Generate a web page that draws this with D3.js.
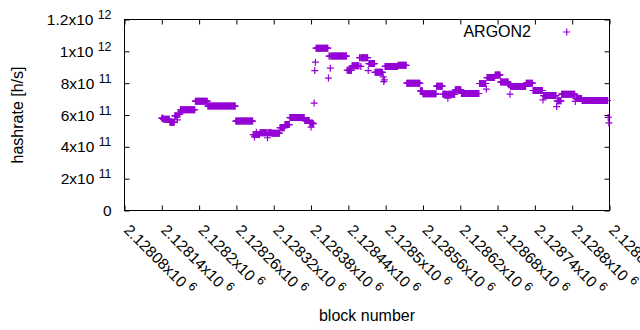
<!DOCTYPE html>
<html>
<head>
<meta charset="utf-8">
<script src="https://cdn.jsdelivr.net/npm/d3@7"></script>
<style>
body { margin: 0; background: #fff; }
text { font-family: "Liberation Sans", Arial, sans-serif; fill: #000; }
</style>
</head>
<body>
<div class="graph"></div>
<script>
// hashrate runs: blocks runFrom[i]..runTo[i] share runRate[i]
var runFrom = [2128140,2128143,2128153,2128161,2128165,2128166,2128170,2128194,2128214,2128259,
               2128287,2128289,2128290,2128292,2128293,2128298,2128310,2128311,2128317,2128330,
               2128338,2128346,2128370,2128378,2128380,2128381,2128383,2128385,2128386,2128387,
               2128388,2128408,2128409,2128411,2128412,2128438,2128446,2128458,2128460,2128461,
               2128472,2128473,2128483,2128496,2128497,2128498,2128499,2128520,2128534,2128556,
               2128560,2128582,2128592,2128600,2128601,2128612,2128622,2128651,2128662,2128663,
               2128676,2128685,2128698,2128700,2128701,2128726,2128737,2128753,2128754,2128775,
               2128776,2128783,2128805,2128806,2128816,2128858,2128859]
var runTo = [2128142,2128152,2128160,2128164,2128165,2128169,2128193,2128213,2128258,2128286,
             2128288,2128289,2128291,2128292,2128297,2128309,2128310,2128316,2128329,2128337,
             2128345,2128369,2128377,2128379,2128380,2128382,2128384,2128385,2128386,2128387,
             2128407,2128408,2128410,2128411,2128437,2128445,2128457,2128459,2128460,2128471,
             2128472,2128482,2128495,2128496,2128497,2128498,2128519,2128533,2128555,2128559,
             2128581,2128591,2128599,2128600,2128611,2128621,2128650,2128661,2128662,2128675,
             2128684,2128697,2128699,2128700,2128725,2128736,2128752,2128753,2128774,2128775,
             2128782,2128804,2128805,2128815,2128857,2128858,2128859]
var runRate = [5.80e11,5.73e11,5.54e11,5.95e11,5.70e11,6.05e11,6.33e11,6.87e11,6.56e11,5.62e11,
               4.77e11,4.62e11,4.77e11,4.92e11,4.77e11,4.89e11,4.57e11,4.89e11,4.86e11,5.20e11,
               5.40e11,5.84e11,5.65e11,5.50e11,5.24e11,5.50e11,5.45e11,6.75e11,8.79e11,9.32e11,
               10.20e11,8.32e11,9.70e11,8.94e11,9.70e11,8.81e11,9.09e11,9.60e11,9.05e11,9.60e11,
               8.79e11,9.23e11,8.68e11,8.40e11,8.10e11,8.21e11,9.05e11,9.12e11,8.00e11,7.52e11,
               7.33e11,7.81e11,7.30e11,7.06e11,7.30e11,7.58e11,7.35e11,7.98e11,7.63e11,8.35e11,
               8.52e11,8.07e11,7.90e11,7.31e11,7.79e11,8.00e11,7.54e11,6.95e11,7.22e11,6.53e11,
               6.89e11,7.31e11,6.85e11,7.03e11,6.91e11,5.85e11,5.50e11]

var xTicks = [2128080,2128140,2128200,2128260,2128320,2128380,2128440,
              2128500,2128560,2128620,2128680,2128740,2128800,2128860]
var yTicks = [0,2e11,4e11,6e11,8e11,1e12,1.2e12]
var seriesName = 'ARGON2'

var width = 640, height = 330
var plot = {left: 124.5, right: 609.5, top: 19.5, bottom: 210.5}
var purple = '#9400d3'
var fs = 16, tickFs = 15.5

var svg = d3.select('.graph')
    .append('svg')
    .attr('width', width)
    .attr('height', height)

var x = d3.scaleLinear().domain([2128080, 2128860]).range([plot.left, plot.right])
var y = d3.scaleLinear().domain([0, 1.2e12]).range([plot.bottom, plot.top])

// ticks on all four sides, pointing inward
function ticksOnly(g) {
    g.select('.domain').remove()
    g.selectAll('line').attr('stroke', '#000')
    g.selectAll('text').remove()
}
svg.append('g').attr('transform', 'translate(0,' + plot.bottom + ')')
    .call(d3.axisBottom(x).tickValues(xTicks).tickSize(-5)).call(ticksOnly)
svg.append('g').attr('transform', 'translate(0,' + plot.top + ')')
    .call(d3.axisTop(x).tickValues(xTicks).tickSize(-5)).call(ticksOnly)
svg.append('g').attr('transform', 'translate(' + plot.left + ',0)')
    .call(d3.axisLeft(y).tickValues(yTicks).tickSize(-5)).call(ticksOnly)
svg.append('g').attr('transform', 'translate(' + plot.right + ',0)')
    .call(d3.axisRight(y).tickValues(yTicks).tickSize(-5)).call(ticksOnly)

svg.append('rect')
    .attr('x', plot.left).attr('y', plot.top)
    .attr('width', plot.right - plot.left)
    .attr('height', plot.bottom - plot.top)
    .attr('fill', 'none')
    .attr('stroke', '#000')

// "m x10 ^e" style label
function sciText(t, v) {
    if (v === 0) { t.text('0'); return }
    var e = Math.floor(Math.log10(v) + 1e-9)
    var m = +(v / Math.pow(10, e)).toFixed(6)
    t.append('tspan').text(m + 'x10 ')
    t.append('tspan').attr('dy', -6).style('font-size', (tickFs * 0.8) + 'px').text(e)
}

svg.append('g').selectAll('text')
    .data(yTicks)
    .enter().append('text')
    .attr('x', 111.5)
    .attr('y', function(d) { return y(d) + 5.5 })
    .attr('text-anchor', 'end')
    .style('font-size', tickFs + 'px')
    .each(function(d) { sciText(d3.select(this), d) })

svg.append('g').selectAll('text')
    .data(xTicks)
    .enter().append('text')
    .attr('transform', function(d) { return 'translate(' + (x(d) - 1.5) + ',231) rotate(45)' })
    .style('font-size', tickFs + 'px')
    .each(function(d) { sciText(d3.select(this), d) })

svg.append('text')
    .attr('transform', 'translate(22.5,' + ((plot.top + plot.bottom) / 2) + ') rotate(-90)')
    .attr('text-anchor', 'middle')
    .style('font-size', fs + 'px')
    .text('hashrate [h/s]')

svg.append('text')
    .attr('x', (plot.left + plot.right) / 2)
    .attr('y', 321)
    .attr('text-anchor', 'middle')
    .style('font-size', fs + 'px')
    .text('block number')

// one point per block
var points = []
runFrom.forEach(function(from, i) {
    for (var b = from; b <= runTo[i]; b++) points.push({block: b, rate: runRate[i]})
})

function plus(cx, cy) {
    var s = 3.5
    return 'M' + (cx - s) + ',' + cy + 'H' + (cx + s) + 'M' + cx + ',' + (cy - s) + 'V' + (cy + s)
}

svg.append('g').selectAll('path')
    .data(points)
    .enter().append('path')
    .attr('d', function(d) { return plus(x(d.block), y(d.rate)) })
    .attr('stroke', purple)
    .attr('stroke-width', 1.2)
    .attr('fill', 'none')

// key
svg.append('text')
    .attr('x', 531)
    .attr('y', 36.7)
    .attr('text-anchor', 'end')
    .style('font-size', fs + 'px')
    .text(seriesName)
svg.append('path')
    .attr('d', plus(566.7, 32))
    .attr('stroke', purple)
    .attr('stroke-width', 1.2)
</script>
</body>
</html>
